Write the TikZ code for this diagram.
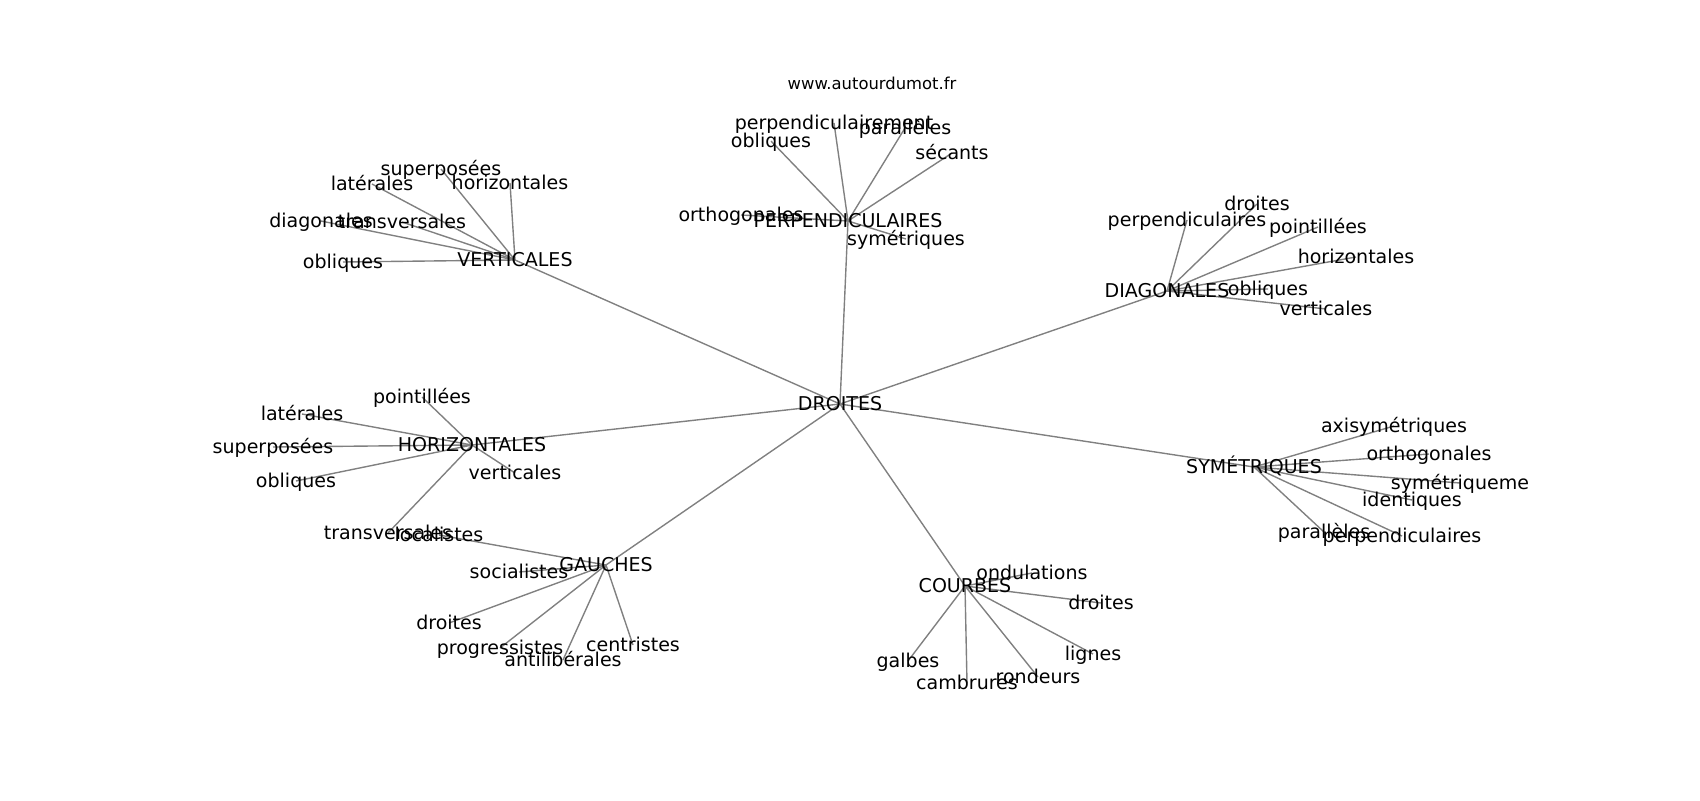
\documentclass[tikz,border=0pt]{standalone}
\usepackage{fontspec}
\setmainfont{DejaVu Sans}
\usetikzlibrary{backgrounds}
\begin{document}
\begin{tikzpicture}[x=0.72pt,y=-0.72pt,
  lbl/.style={inner sep=0pt, font=\fontsize{13.7}{16}\selectfont, text height=1.22em, text depth=0.24em},
  ttl/.style={inner sep=0pt, font=\fontsize{11.8}{14}\selectfont, text height=1.14em, text depth=0.24em},
  edge/.style={draw=black!50, line width=1pt}]
\useasboundingbox (0,0) rectangle (1700,800);
\node[ttl] (title) at (872,83) {www.autourdumot.fr};
% hubs
\node[lbl] (d) at (840,404) {DROITES};
\node[lbl] (v) at (515,260) {VERTICALES};
\node[lbl] (p) at (848,221) {PERPENDICULAIRES};
\node[lbl] (dg) at (1167,291) {DIAGONALES};
\node[lbl] (h) at (472,445) {HORIZONTALES};
\node[lbl] (g) at (606,565) {GAUCHES};
\node[lbl] (c) at (965,586) {COURBES};
\node[lbl] (s) at (1254,467) {SYMÉTRIQUES};
% VERTICALES
\node[lbl] (v1) at (441,169) {superposées};
\node[lbl] (v2) at (372,184) {latérales};
\node[lbl] (v3) at (510,183) {horizontales};
\node[lbl] (v4) at (321,221) {diagonales};
\node[lbl] (v5) at (402,222) {transversales};
\node[lbl] (v6) at (343,262) {obliques};
% PERPENDICULAIRES
\node[lbl] (p1) at (834,123) {perpendiculairement};
\node[lbl] (p2) at (905,128) {parallèles};
\node[lbl] (p3) at (771,141) {obliques};
\node[lbl] (p4) at (952,153) {sécants};
\node[lbl] (p5) at (741,215) {orthogonales};
\node[lbl] (p6) at (906,239) {symétriques};
% DIAGONALES
\node[lbl] (dg1) at (1257,204) {droites};
\node[lbl] (dg2) at (1187,220) {perpendiculaires};
\node[lbl] (dg3) at (1318,227) {pointillées};
\node[lbl] (dg4) at (1356,257) {horizontales};
\node[lbl] (dg5) at (1268,289) {obliques};
\node[lbl] (dg6) at (1326,309) {verticales};
% HORIZONTALES
\node[lbl] (h1) at (422,397) {pointillées};
\node[lbl] (h2) at (302,414) {latérales};
\node[lbl] (h3) at (273,447) {superposées};
\node[lbl] (h4) at (296,481) {obliques};
\node[lbl] (h5) at (515,473) {verticales};
\node[lbl] (h6) at (388,533) {transversales};
% GAUCHES
\node[lbl] (g1) at (439,535) {localistes};
\node[lbl] (g2) at (519,572) {socialistes};
\node[lbl] (g3) at (449,623) {droites};
\node[lbl] (g4) at (500,648) {progressistes};
\node[lbl] (g5) at (563,660) {antilibérales};
\node[lbl] (g6) at (633,645) {centristes};
% COURBES
\node[lbl] (c1) at (1032,573) {ondulations};
\node[lbl] (c2) at (1101,603) {droites};
\node[lbl] (c3) at (908,661) {galbes};
\node[lbl] (c4) at (967,683) {cambrures};
\node[lbl] (c5) at (1038,677) {rondeurs};
\node[lbl] (c6) at (1093,654) {lignes};
% SYMETRIQUES
\node[lbl] (s1) at (1394,426) {axisymétriques};
\node[lbl] (s2) at (1429,454) {orthogonales};
\node[lbl] (s3) at (1460,483) {symétriqueme};
\node[lbl] (s4) at (1412,500) {identiques};
\node[lbl] (s5) at (1324,532) {parallèles};
\node[lbl] (s6) at (1402,536) {perpendiculaires};
\begin{scope}[on background layer]
\foreach \a/\b in {d/v,d/p,d/dg,d/h,d/g,d/c,d/s,
  v/v1,v/v2,v/v3,v/v4,v/v5,v/v6,
  p/p1,p/p2,p/p3,p/p4,p/p5,p/p6,
  dg/dg1,dg/dg2,dg/dg3,dg/dg4,dg/dg5,dg/dg6,
  h/h1,h/h2,h/h3,h/h4,h/h5,h/h6,
  g/g1,g/g2,g/g3,g/g4,g/g5,g/g6,
  c/c1,c/c2,c/c3,c/c4,c/c5,c/c6,
  s/s1,s/s2,s/s3,s/s4,s/s5,s/s6}
  \draw[edge] (\a.center) -- (\b.center);
\end{scope}
\end{tikzpicture}
\end{document}
